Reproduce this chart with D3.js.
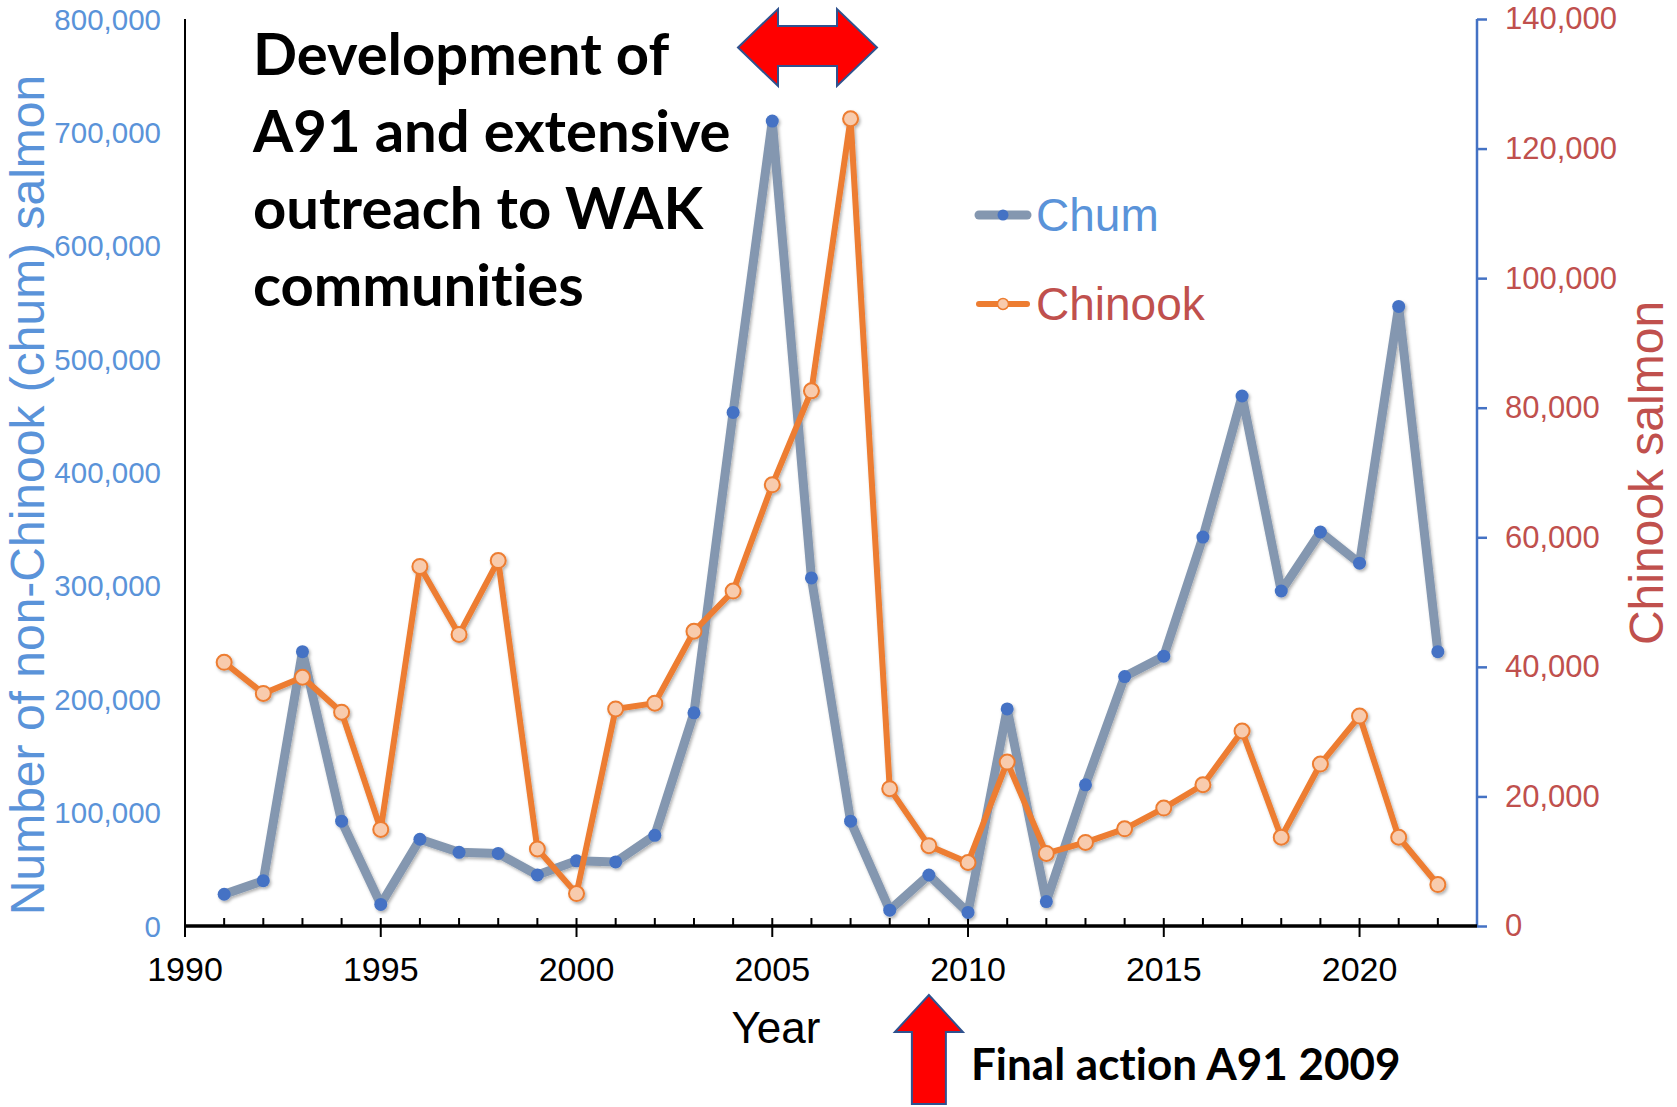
<!DOCTYPE html>
<html>
<head>
<meta charset="utf-8">
<script src="https://cdn.jsdelivr.net/npm/d3@7"></script>
<style>
    html, body { margin: 0; padding: 0; background: #ffffff; }
    svg { display: block; }
    .tick-label { font-family: 'Liberation Sans', Arial, sans-serif; }
    .note { font-family: Lato, 'Open Sans', sans-serif; font-weight: 700; fill: #000000; font-variant-ligatures: none; }
</style>
</head>
<body>
<div class="viz"></div>
<script>
const years = [1991, 1992, 1993, 1994, 1995, 1996, 1997, 1998, 1999, 2000,
    2001, 2002, 2003, 2004, 2005, 2006, 2007, 2008, 2009, 2010,
    2011, 2012, 2013, 2014, 2015, 2016, 2017, 2018, 2019, 2020, 2021, 2022];

const chum = [28000, 40000, 242000, 92500, 19000, 76500, 65000, 64000, 45000, 57500,
    56500, 80000, 188000, 453000, 710000, 307000, 92500, 14000, 45000, 12000,
    191500, 21500, 124500, 220000, 238000, 343000, 467500, 295500, 347500, 320000, 546500, 242000];

const chinook = [40700, 35900, 38400, 33000, 14900, 55500, 45000, 56400, 11900, 5000,
    33500, 34400, 45500, 51700, 68100, 82600, 124600, 21200, 12400, 9800,
    25300, 11200, 12900, 15000, 18200, 21800, 30100, 13700, 25000, 32400, 13700, 6400];

const leftTicks = [0, 100000, 200000, 300000, 400000, 500000, 600000, 700000, 800000];
const rightTicks = [0, 20000, 40000, 60000, 80000, 100000, 120000, 140000];
const yearTicks = [1990, 1995, 2000, 2005, 2010, 2015, 2020];

const noteLines = ['Development of', 'A91 and extensive', 'outreach to WAK', 'communities'];
const finalNote = 'Final action A91 2009';

const colors = {
    chumLine: '#8497b0',
    chumDot: '#4472c4',
    chinookLine: '#ed7d31',
    chinookDot: '#f8cbad',
    leftText: '#5a93d9',
    rightText: '#c0504d',
    rightAxis: '#4472c4',
    arrow: '#ff0000',
    arrowStroke: '#2f528f'
};

const width = 1677;
const height = 1107;
const plot = {left: 185, right: 1477, top: 19, bottom: 926};

const svg = d3.select('.viz')
    .append('svg')
    .attr('width', width)
    .attr('height', height);

const defs = svg.append('defs');
defs.append('filter')
    .attr('id', 'shadow')
    .attr('x', '-10%').attr('y', '-10%')
    .attr('width', '120%').attr('height', '120%')
    .append('feDropShadow')
        .attr('dx', 1.5)
        .attr('dy', 2)
        .attr('stdDeviation', 1.5)
        .attr('flood-color', '#000000')
        .attr('flood-opacity', 0.3);

const x = d3.scaleLinear()
    .domain([1990, 2023])
    .range([plot.left, plot.right]);
const yLeft = d3.scaleLinear()
    .domain([0, 800000])
    .range([plot.bottom, plot.top]);
const yRight = d3.scaleLinear()
    .domain([0, 140000])
    .range([plot.bottom, plot.top]);

const fmt = d3.format(',');

// left axis: plain line, labels only
svg.append('line')
    .attr('x1', plot.left).attr('x2', plot.left)
    .attr('y1', plot.top).attr('y2', plot.bottom)
    .attr('stroke', '#000000')
    .attr('stroke-width', 2);

svg.append('g').selectAll('text')
    .data(leftTicks)
    .enter()
    .append('text')
        .classed('tick-label', true)
        .attr('x', plot.left - 24)
        .attr('y', d => yLeft(d))
        .attr('dy', '0.36em')
        .attr('text-anchor', 'end')
        .style('font-size', '29.5px')
        .style('fill', colors.leftText)
        .text(d => fmt(d));

// right axis
const rightAxis = svg.append('g')
    .attr('transform', 'translate(' + plot.right + ',0)')
    .call(d3.axisRight(yRight).tickValues(rightTicks).tickSize(10).tickPadding(18).tickFormat(fmt));
rightAxis.select('.domain')
    .attr('stroke', colors.rightAxis)
    .attr('stroke-width', 2.5)
    .attr('d', 'M0,' + plot.top + 'V' + plot.bottom);
rightAxis.selectAll('.tick line')
    .attr('stroke', colors.rightAxis)
    .attr('stroke-width', 2.5);
rightAxis.selectAll('.tick text')
    .classed('tick-label', true)
    .style('font-size', '31px')
    .style('fill', colors.rightText);

// x axis with yearly minor ticks
const xAxis = svg.append('g');
xAxis.selectAll('.minor')
    .data(d3.range(1991, 2023))
    .enter()
    .append('line')
        .attr('x1', d => x(d)).attr('x2', d => x(d))
        .attr('y1', plot.bottom - 8)
        .attr('y2', d => d % 5 == 0 ? plot.bottom + 11 : plot.bottom)
        .attr('stroke', '#000000')
        .attr('stroke-width', 2);
xAxis.append('line')
    .attr('x1', plot.left).attr('x2', plot.right)
    .attr('y1', plot.bottom).attr('y2', plot.bottom)
    .attr('stroke', '#000000')
    .attr('stroke-width', 3.5);
xAxis.append('line')
    .attr('x1', plot.left).attr('x2', plot.left)
    .attr('y1', plot.bottom).attr('y2', plot.bottom + 11)
    .attr('stroke', '#000000')
    .attr('stroke-width', 2);
xAxis.selectAll('.year')
    .data(yearTicks)
    .enter()
    .append('text')
        .classed('tick-label', true)
        .attr('x', d => x(d))
        .attr('y', 981)
        .attr('text-anchor', 'middle')
        .style('font-size', '34px')
        .style('fill', '#000000')
        .text(d => d);

svg.append('text')
    .classed('tick-label', true)
    .attr('x', 776)
    .attr('y', 1043)
    .attr('text-anchor', 'middle')
    .style('font-size', '44px')
    .style('fill', '#000000')
    .text('Year');

// axis titles
svg.append('text')
    .classed('tick-label', true)
    .attr('transform', 'translate(44,495) rotate(-90)')
    .attr('text-anchor', 'middle')
    .style('font-size', '48px')
    .style('fill', colors.leftText)
    .text('Number of non-Chinook (chum) salmon');

svg.append('text')
    .classed('tick-label', true)
    .attr('transform', 'translate(1663,473) rotate(-90)')
    .attr('text-anchor', 'middle')
    .style('font-size', '48px')
    .style('fill', colors.rightText)
    .text('Chinook salmon');

// series
const chumData = years.map((yr, i) => ({year: yr, value: chum[i]}));
const chinookData = years.map((yr, i) => ({year: yr, value: chinook[i]}));

const series = svg.append('g').attr('filter', 'url(#shadow)');

series.append('path')
    .datum(chumData)
    .attr('d', d3.line().x(d => x(d.year)).y(d => yLeft(d.value)))
    .attr('fill', 'none')
    .attr('stroke', colors.chumLine)
    .attr('stroke-width', 9)
    .attr('stroke-linejoin', 'round');

series.selectAll('.chum-dot')
    .data(chumData)
    .enter()
    .append('circle')
        .attr('cx', d => x(d.year))
        .attr('cy', d => yLeft(d.value))
        .attr('r', 6.5)
        .attr('fill', colors.chumDot);

series.append('path')
    .datum(chinookData)
    .attr('d', d3.line().x(d => x(d.year)).y(d => yRight(d.value)))
    .attr('fill', 'none')
    .attr('stroke', colors.chinookLine)
    .attr('stroke-width', 6)
    .attr('stroke-linejoin', 'round');

series.selectAll('.chinook-dot')
    .data(chinookData)
    .enter()
    .append('circle')
        .attr('cx', d => x(d.year))
        .attr('cy', d => yRight(d.value))
        .attr('r', 7.5)
        .attr('fill', colors.chinookDot)
        .attr('stroke', colors.chinookLine)
        .attr('stroke-width', 2);

// legend
const legend = svg.append('g');
const legendItems = [
    {name: 'Chum', y: 215, line: colors.chumLine, width: 9, dot: colors.chumDot, stroke: 'none', text: colors.leftText},
    {name: 'Chinook', y: 304, line: colors.chinookLine, width: 6, dot: colors.chinookDot, stroke: colors.chinookLine, text: colors.rightText}
];
legendItems.forEach(item => {
    legend.append('line')
        .attr('x1', 979).attr('x2', 1027)
        .attr('y1', item.y).attr('y2', item.y)
        .attr('stroke', item.line)
        .attr('stroke-width', item.width)
        .attr('stroke-linecap', 'round');
    legend.append('circle')
        .attr('cx', 1003).attr('cy', item.y)
        .attr('r', 5.5)
        .attr('fill', item.dot)
        .attr('stroke', item.stroke)
        .attr('stroke-width', 1.5);
    legend.append('text')
        .classed('tick-label', true)
        .attr('x', 1036)
        .attr('y', item.y + 16)
        .style('font-size', '46px')
        .style('fill', item.text)
        .text(item.name);
});

// annotations
svg.append('g').selectAll('text')
    .data(noteLines)
    .enter()
    .append('text')
        .classed('note', true)
        .attr('x', 253)
        .attr('y', (d, i) => 75 + i * 77)
        .style('font-size', '58px')
        .text(d => d);

svg.append('text')
    .classed('note', true)
    .attr('x', 971)
    .attr('y', 1080)
    .style('font-size', '44px')
    .text(finalNote);

// double arrow over 2005-2007
const da = {left: 738, right: 877, top: 9, bottom: 86, headL: 778, headR: 837, shaftT: 26, shaftB: 66};
const midY = (da.top + da.bottom) / 2;
svg.append('path')
    .attr('d', d3.line()([
        [da.left, midY], [da.headL, da.top], [da.headL, da.shaftT], [da.headR, da.shaftT],
        [da.headR, da.top], [da.right, midY], [da.headR, da.bottom], [da.headR, da.shaftB],
        [da.headL, da.shaftB], [da.headL, da.bottom]
    ]) + 'Z')
    .attr('fill', colors.arrow)
    .attr('stroke', colors.arrowStroke)
    .attr('stroke-width', 2);

// up arrow at 2009
const ua = {cx: x(2009), tip: 995, head: 1032, halfHead: 34, halfShaft: 17, bottom: 1104};
svg.append('path')
    .attr('d', d3.line()([
        [ua.cx, ua.tip], [ua.cx + ua.halfHead, ua.head], [ua.cx + ua.halfShaft, ua.head],
        [ua.cx + ua.halfShaft, ua.bottom], [ua.cx - ua.halfShaft, ua.bottom],
        [ua.cx - ua.halfShaft, ua.head], [ua.cx - ua.halfHead, ua.head]
    ]) + 'Z')
    .attr('fill', colors.arrow)
    .attr('stroke', colors.arrowStroke)
    .attr('stroke-width', 2);
</script>
</body>
</html>
